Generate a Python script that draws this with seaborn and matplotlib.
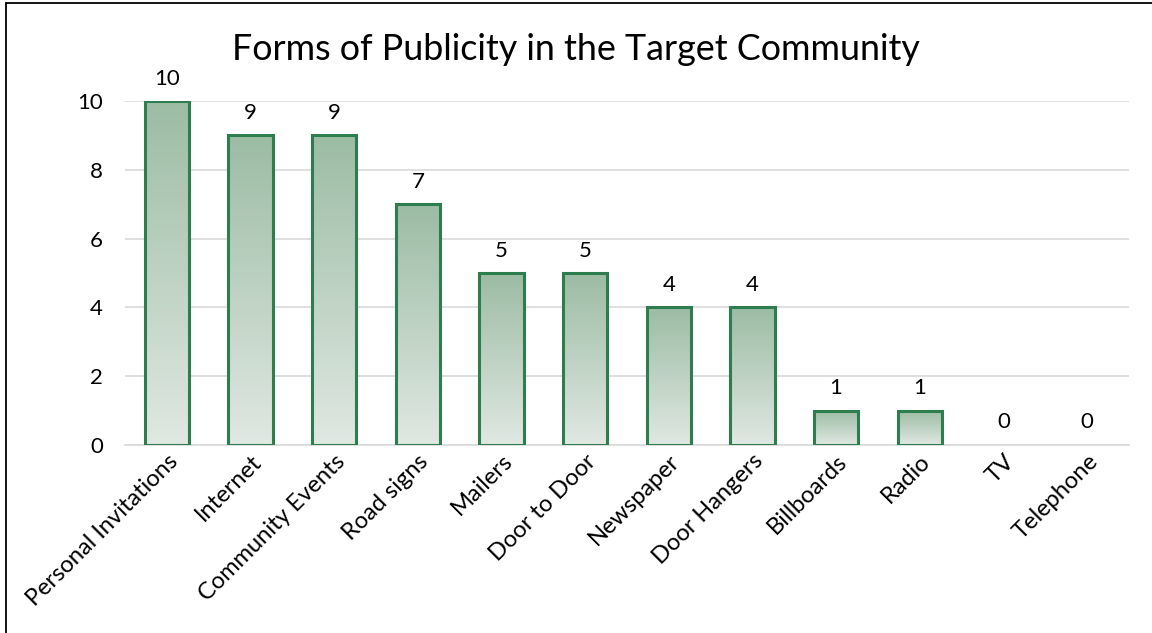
import matplotlib
matplotlib.use("Agg")
import matplotlib.pyplot as plt
import seaborn as sns
import numpy as np
import pandas as pd
from matplotlib.lines import Line2D
from matplotlib.colors import LinearSegmentedColormap

categories = ["Personal Invitations", "Internet", "Community Events", "Road signs",
              "Mailers", "Door to Door", "Newspaper", "Door Hangers", "Billboards",
              "Radio", "TV", "Telephone"]
values = [10, 9, 9, 7, 5, 5, 4, 4, 1, 1, 0, 0]
yticks = [0, 2, 4, 6, 8, 10]
title = "Forms of Publicity in the Target Community"

sns.set_theme(style="white")
plt.rcParams['font.family'] = ['Lato', 'DejaVu Sans']

df = pd.DataFrame({"cat": categories, "val": values})

fig = plt.figure(figsize=(11.52, 6.33), dpi=100)
ax = fig.add_axes([0.1085, 0.297, 0.8715, 0.5434])

sns.barplot(data=df, x="cat", y="val", ax=ax, width=0.53,
            facecolor="none", edgecolor="#2E7D4F", linewidth=2.2, zorder=3)

cmap = LinearSegmentedColormap.from_list("g", ["#E0E8E2", "#9CBCA4"])
grad = np.linspace(0, 1, 256).reshape(-1, 1)
for p in ax.patches:
    x0, y0 = p.get_x(), p.get_y()
    w, h = p.get_width(), p.get_height()
    if h <= 0:
        p.set_visible(False)
        continue
    ax.imshow(grad, extent=[x0, x0 + w, y0, y0 + h], origin="lower",
              cmap=cmap, aspect="auto", zorder=2)

fs = 16
ax.set_xlim(-0.5, len(categories) - 0.5)
ax.set_ylim(0, 10)
ax.set_yticks(yticks)
ax.set_yticklabels([str(t) for t in yticks], fontsize=fs, color="#000000")
ax.yaxis.grid(True, color="#D9D9D9", linewidth=1.2, zorder=0)
ax.set_axisbelow(True)
for s in ["top", "right", "left"]:
    ax.spines[s].set_visible(False)
ax.spines["bottom"].set_color("#D9D9D9")
ax.spines["bottom"].set_linewidth(1.2)
ax.tick_params(axis="y", length=0, pad=16)
ax.tick_params(axis="x", length=0, pad=4)
ax.set_xticks(range(len(categories)))
ax.set_xticklabels(categories, rotation=45, ha="right", rotation_mode="anchor",
                   fontsize=17, color="#000000")
ax.set_xlabel("")
ax.set_ylabel("")

for i, v in enumerate(values):
    ax.annotate(str(v), (i, v), xytext=(0, 9), textcoords="offset points",
                ha="center", va="bottom", fontsize=fs, color="#000000",
                annotation_clip=False)

fig.text(0.5, 0.922, title, ha="center", va="center", fontsize=25.8, color="#000000")

fig.add_artist(Line2D([0.0053, 0.0053], [0, 0.995], transform=fig.transFigure,
                      color="black", linewidth=1.3))
fig.add_artist(Line2D([0.0053, 1.0], [0.995, 0.995], transform=fig.transFigure,
                      color="black", linewidth=1.3))

fig.savefig("out.png", dpi=100)
